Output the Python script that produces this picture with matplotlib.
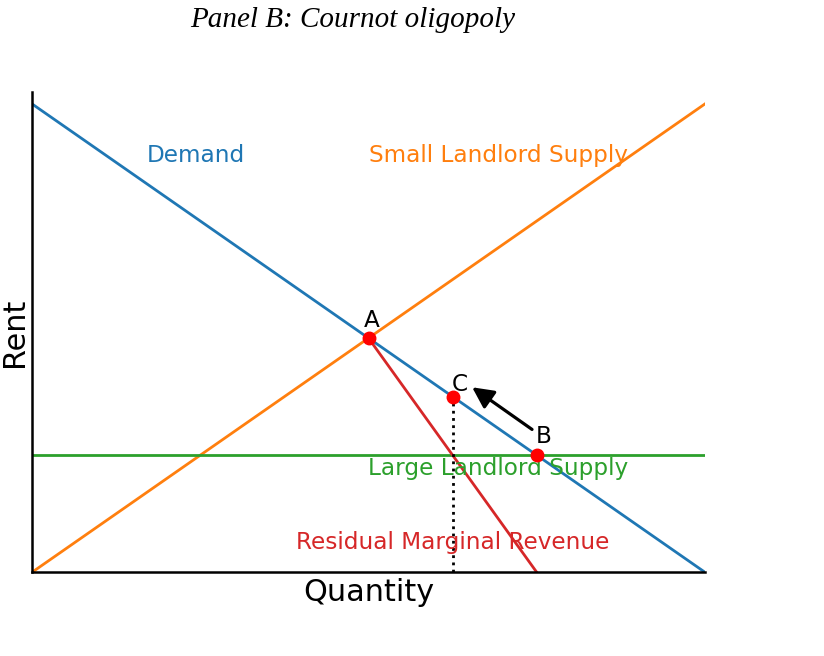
import matplotlib
matplotlib.use("Agg")
import matplotlib.pyplot as plt
import numpy as np

# Data
q_range = [0, 10]
demand_rent = [10, 0]
small_supply_rent = [0, 10]
large_supply_rent = [2.5, 2.5]
mr_q = [5, 7.5]
mr_rent = [5, 0]
point_labels = ["A", "B", "C"]
point_q = [5, 7.5, 6.25]
point_rent = [5, 2.5, 3.75]

W, H = 824, 656
fig = plt.figure(figsize=(W / 100, H / 100), dpi=100)
ax = fig.add_axes([32 / W, (H - 572.3) / H, (705 - 32) / W, (572.3 - 91.7) / H])

blue, orange, green, red = "#1f77b4", "#ff7f0e", "#2ca02c", "#d62728"
lw = 2.0
ax.plot(q_range, demand_rent, color=blue, lw=lw)
ax.plot(q_range, small_supply_rent, color=orange, lw=lw)
ax.plot(q_range, large_supply_rent, color=green, lw=lw)
ax.plot(mr_q, mr_rent, color=red, lw=lw)
ax.plot([point_q[2], point_q[2]], [0, point_rent[2]], color="black", ls=(0, (1, 1.6)), lw=2)
ax.plot(point_q, point_rent, "o", color="red", ms=9, zorder=5)

ax.set_xlim(0, 10)
ax.set_ylim(0, 10.26)
ax.set_xticks([])
ax.set_yticks([])
for s in ["top", "right"]:
    ax.spines[s].set_visible(False)
for s in ["left", "bottom"]:
    ax.spines[s].set_linewidth(1.8)

fs = 16.7
ax.text(5.05, 5.24, "A", fontsize=fs, ha="center", va="baseline")
ax.text(7.61, 2.77, "B", fontsize=fs, ha="center", va="baseline")
ax.text(6.36, 3.86, "C", fontsize=fs, ha="center", va="baseline")

ax.annotate("", xy=(6.54, 3.95), xytext=(7.43, 3.05),
            arrowprops=dict(arrowstyle="-|>", color="black", lw=2.3,
                            mutation_scale=32, shrinkA=0, shrinkB=0))

ax.text(2.43, 8.76, "Demand", color=blue, fontsize=fs, ha="center", va="baseline")
ax.text(6.93, 8.76, "Small Landlord Supply", color=orange, fontsize=fs, ha="center", va="baseline")
ax.text(6.93, 2.07, "Large Landlord Supply", color=green, fontsize=fs, ha="center", va="baseline")
ax.text(6.25, 0.50, "Residual Marginal Revenue", color=red, fontsize=fs, ha="center", va="baseline")

ax.set_xlabel("Quantity", fontsize=21.8, labelpad=4)
ax.set_ylabel("Rent", fontsize=21.8, labelpad=2)

fig.text(353 / W, 1 - 20 / H, "Panel B: Cournot oligopoly", fontsize=21,
         family="Liberation Serif", style="italic", ha="center", va="center")

fig.savefig("out.png", dpi=100)
